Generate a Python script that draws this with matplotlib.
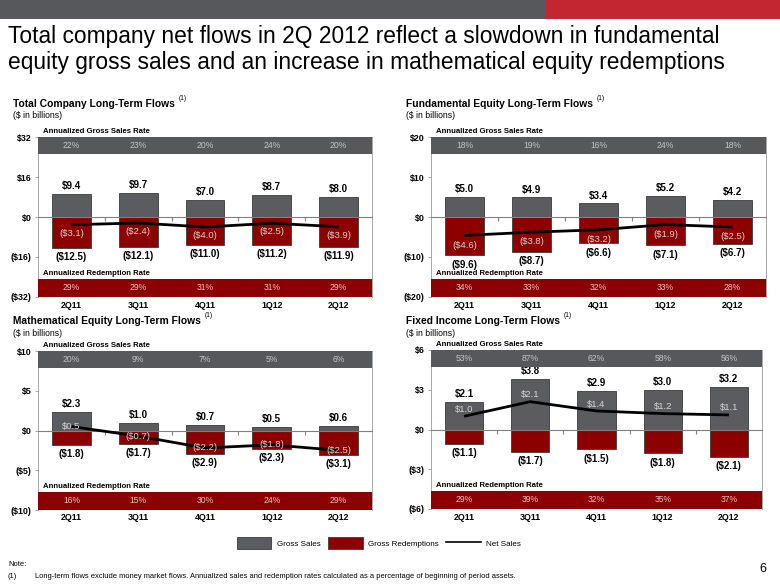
import numpy as np
import matplotlib
matplotlib.use('Agg')
import matplotlib.pyplot as plt
import matplotlib.transforms as mtransforms
from matplotlib.patches import Rectangle, Patch
from matplotlib.lines import Line2D
from matplotlib.ticker import FuncFormatter, FixedLocator

# ── Data ──────────────────────────────────────────────────────────────────────
quarters = ['2Q11', '3Q11', '4Q11', '1Q12', '2Q12']

total_gross = [9.4, 9.7, 7.0, 8.7, 8.0]
total_redem = [-12.5, -12.1, -11.0, -11.2, -11.9]
total_net   = [-3.1, -2.4, -4.0, -2.5, -3.9]
total_gsr   = [22, 23, 20, 24, 20]
total_rr    = [29, 29, 31, 31, 29]

fund_gross = [5.0, 4.9, 3.4, 5.2, 4.2]
fund_redem = [-9.6, -8.7, -6.6, -7.1, -6.7]
fund_net   = [-4.6, -3.8, -3.2, -1.9, -2.5]
fund_gsr   = [18, 19, 16, 24, 18]
fund_rr    = [34, 33, 32, 33, 28]

math_gross = [2.3, 1.0, 0.7, 0.5, 0.6]
math_redem = [-1.8, -1.7, -2.9, -2.3, -3.1]
math_net   = [0.5, -0.7, -2.2, -1.8, -2.5]
math_gsr   = [20, 9, 7, 5, 6]
math_rr    = [16, 15, 30, 24, 29]

fixed_gross = [2.1, 3.8, 2.9, 3.0, 3.2]
fixed_redem = [-1.1, -1.7, -1.5, -1.8, -2.1]
fixed_net   = [1.0, 2.1, 1.4, 1.2, 1.1]
fixed_gsr   = [53, 87, 62, 58, 56]
fixed_rr    = [29, 39, 32, 35, 37]

# ── Colors / fonts ────────────────────────────────────────────────────────────
GRAY      = '#5A5C5F'
BAND_GRAY = '#56585B'
RED       = '#8C0000'
TOP_RED   = '#C42630'
EDGE      = '#3A3A3A'
LIGHT_TXT = '#D6D6D6'
PINK_TXT  = '#E6C3C3'
AXIS_GRAY = '#9A9A9A'

SANS = ['Liberation Sans', 'DejaVu Sans']
plt.rcParams['font.family'] = SANS

W, H = 780, 585
fig = plt.figure(figsize=(W / 100, H / 100), dpi=100)
fig.patch.set_facecolor('white')


def fx(x):
    return x / W


def fy(y):
    return 1 - y / H


def money(v):
    return f'${v:.1f}' if v >= 0 else f'(${-v:.1f})'


def ytick_fmt(v, pos):
    v = int(round(v))
    if v == 0:
        return '$0'
    return f'${v}' if v > 0 else f'(${-v})'


# ── Banner + headline ─────────────────────────────────────────────────────────
fig.add_artist(Rectangle((0, fy(19)), fx(546), 19 / H, transform=fig.transFigure,
                         color=BAND_GRAY, lw=0))
fig.add_artist(Rectangle((fx(546), fy(19)), 1 - fx(546), 19 / H,
                         transform=fig.transFigure, color=TOP_RED, lw=0))
fig.text(fx(8), fy(37), 'Total company net flows in 2Q 2012 reflect a slowdown in fundamental',
         fontsize=16.4, va='center', color='black')
fig.text(fx(8), fy(62), 'equity gross sales and an increase in mathematical equity redemptions',
         fontsize=16.4, va='center', color='black')


# ── Panel drawing ─────────────────────────────────────────────────────────────
GBAND = 0.107
RBAND = 0.115


def draw_panel(rect, title, tpos, gross, redem, net, gsr, rr, lim, step, net_off):
    x0, y0, x1, y1 = rect
    ax = fig.add_axes([fx(x0), fy(y1), (x1 - x0) / W, (y1 - y0) / H])
    x = np.arange(len(quarters))

    ax.bar(x, gross, 0.58, color=GRAY, edgecolor=EDGE, linewidth=0.6, zorder=2)
    ax.bar(x, redem, 0.58, color=RED, edgecolor=EDGE, linewidth=0.6, zorder=2)
    ax.plot(x, net, color='black', linewidth=2, zorder=4, solid_capstyle='butt')

    for i in x:
        ax.annotate(money(gross[i]), xy=(i, gross[i]), xytext=(0, 2),
                    textcoords='offset points', ha='center', va='bottom',
                    fontsize=7.0, fontweight='bold', color='black')
        ax.annotate(money(redem[i]), xy=(i, redem[i]), xytext=(0, -3),
                    textcoords='offset points', ha='center', va='top',
                    fontsize=7.0, fontweight='bold', color='black')
        ax.annotate(money(net[i]), xy=(i, net[i]), xytext=(0, net_off),
                    textcoords='offset points', ha='center', va='center',
                    fontsize=6.8, color=LIGHT_TXT, zorder=5)

    ax.set_xlim(-0.5, len(quarters) - 0.5)
    ax.set_ylim(-lim, lim)

    # rate bands
    ax.add_patch(Rectangle((0, 1 - GBAND), 1, GBAND, transform=ax.transAxes,
                           color=BAND_GRAY, lw=0, zorder=3))
    ax.add_patch(Rectangle((0, 0), 1, RBAND, transform=ax.transAxes,
                           color=RED, lw=0, zorder=3))
    blend = mtransforms.blended_transform_factory(ax.transData, ax.transAxes)
    for i in x:
        ax.text(i, 1 - GBAND / 2, f'{gsr[i]}%', transform=blend, ha='center',
                va='center', fontsize=6.2, color='#C4C4C4', zorder=4)
        ax.text(i, RBAND / 2, f'{rr[i]}%', transform=blend, ha='center',
                va='center', fontsize=6.2, color=PINK_TXT, zorder=4)
        ax.annotate(quarters[i], xy=(i, 0), xycoords=blend, xytext=(0, -8),
                    textcoords='offset pixels', ha='center', va='center',
                    fontsize=6.4, fontweight='bold')
    ax.annotate('Annualized Gross Sales Rate', xy=(0, 1), xycoords='axes fraction',
                xytext=(5, 2), textcoords='offset pixels', ha='left', va='bottom',
                fontsize=5.6, fontweight='bold')
    ax.annotate('Annualized Redemption Rate', xy=(0, RBAND), xycoords='axes fraction',
                xytext=(5, 2), textcoords='offset pixels', ha='left', va='bottom',
                fontsize=5.6, fontweight='bold')

    # axes styling
    ax.set_yticks(np.arange(-lim, lim + step / 2, step))
    ax.yaxis.set_major_formatter(FuncFormatter(ytick_fmt))
    ax.tick_params(axis='y', labelsize=6.4, length=2.5, width=0.6, pad=2,
                   color=AXIS_GRAY)
    for lab in ax.get_yticklabels():
        lab.set_fontweight('bold')
    ax.spines['bottom'].set_position(('data', 0))
    ax.spines['bottom'].set_color('#808080')
    ax.spines['bottom'].set_linewidth(0.8)
    ax.xaxis.set_major_locator(FixedLocator(x[:-1] + 0.5))
    ax.tick_params(axis='x', length=3, width=0.8, color='#808080',
                   labelbottom=False, direction='out')
    for s in ['left', 'right', 'top']:
        ax.spines[s].set_color(AXIS_GRAY)
        ax.spines[s].set_linewidth(0.6)

    tx, ty = tpos
    t = fig.text(fx(tx), fy(ty), title, fontsize=7.4, fontweight='bold',
                 ha='left', va='center')
    ax.annotate('(1)', xy=(1, 0.7), xycoords=t, xytext=(2.5, 0),
                textcoords='offset points', fontsize=4.8, va='bottom', ha='left',
                annotation_clip=False)
    fig.text(fx(tx), fy(ty + 12), '($ in billions)', fontsize=6.2, ha='left',
             va='center')
    return ax


draw_panel((38, 137, 372, 297), 'Total Company Long-Term Flows', (13, 104),
           total_gross, total_redem, total_net, total_gsr, total_rr, 32, 16, -6)
draw_panel((431, 137, 766, 297), 'Fundamental Equity Long-Term Flows', (406, 104),
           fund_gross, fund_redem, fund_net, fund_gsr, fund_rr, 20, 10, -7)
draw_panel((38, 351, 372, 510), 'Mathematical Equity Long-Term Flows', (13, 321),
           math_gross, math_redem, math_net, math_gsr, math_rr, 10, 5, 0)
draw_panel((431, 350, 762, 509), 'Fixed Income Long-Term Flows', (406, 321),
           fixed_gross, fixed_redem, fixed_net, fixed_gsr, fixed_rr, 6, 3, 5)

# ── Legend ────────────────────────────────────────────────────────────────────
handles = [Patch(facecolor=GRAY, edgecolor=EDGE, linewidth=0.6, label='Gross Sales'),
           Patch(facecolor=RED, edgecolor=EDGE, linewidth=0.6, label='Gross Redemptions'),
           Line2D([], [], color='black', linewidth=1.2, label='Net Sales')]
fig.legend(handles=handles, loc='center', bbox_to_anchor=(fx(379), fy(543)),
           ncol=3, frameon=False, fontsize=5.8, handlelength=4.3, handleheight=1.75,
           handletextpad=0.7, columnspacing=0.9)

# ── Footnote ──────────────────────────────────────────────────────────────────
fig.text(fx(8), fy(565), 'Note:', fontsize=5.4, va='center')
fig.text(fx(8), fy(576), '(1)', fontsize=5.4, va='center')
fig.text(fx(35), fy(576), 'Long-term flows exclude money market flows. Annualized sales and '
         'redemption rates calculated as a percentage of beginning of period assets.',
         fontsize=5.4, va='center')
fig.text(fx(766), fy(569), '6', fontsize=9, ha='right', va='center')

plt.savefig('out.png', dpi=100, facecolor=fig.get_facecolor())
